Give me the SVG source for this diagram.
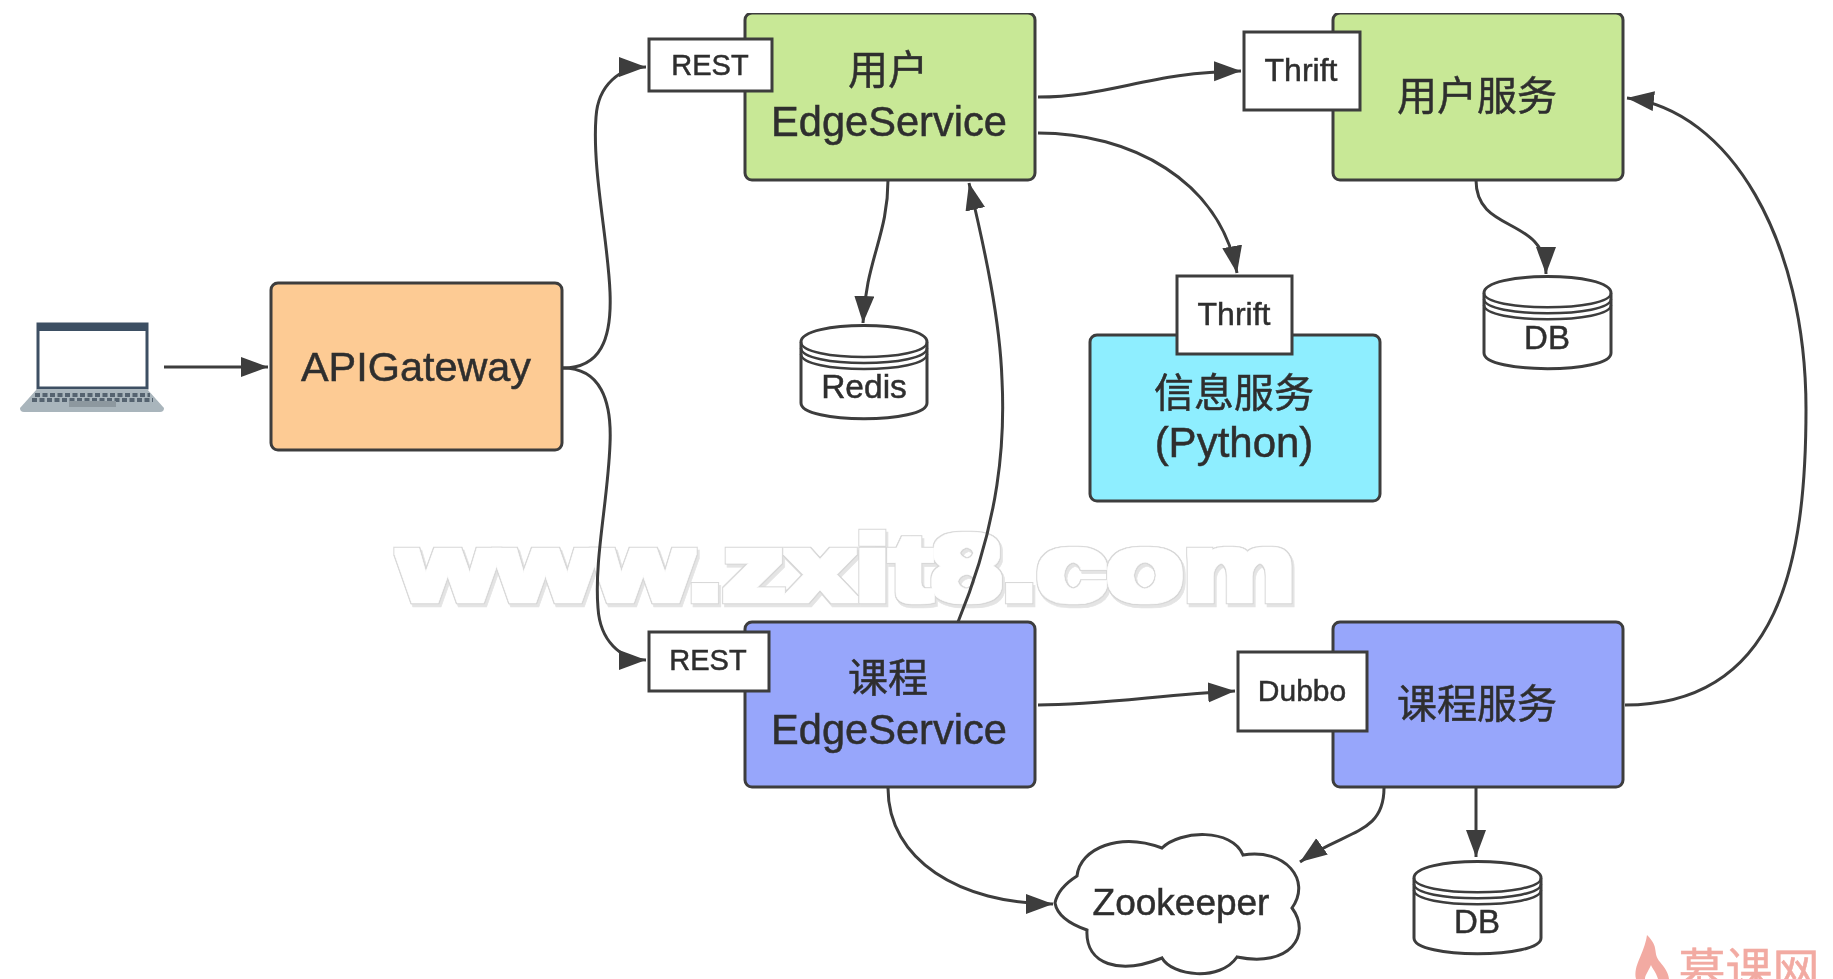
<svg xmlns="http://www.w3.org/2000/svg" width="1833" height="979" viewBox="0 0 1833 979">
<style>
text{font-family:"Liberation Sans","Noto Sans CJK SC",sans-serif;fill:#2f2f2f;stroke:#2f2f2f;stroke-width:.5;text-anchor:middle}
.box{stroke:#3c3c3c;stroke-width:3}
.tag{fill:#fff;stroke:#3c3c3c;stroke-width:3}
.db{fill:#fff;stroke:#3c3c3c;stroke-width:3}
.band{fill:none;stroke:#3c3c3c;stroke-width:2.5}
.conn path{fill:none;stroke:#3c3c3c;stroke-width:3;marker-end:url(#arrow)}
.big{font-size:40px}
.edge{font-size:41.6px}
.sm{font-size:29px}
.th{font-size:32px}
</style>
<defs>
<marker id="arrow" markerUnits="userSpaceOnUse" markerWidth="28" markerHeight="22" refX="27" refY="10" orient="auto"><path d="M0 0L27 10L0 20z" fill="#3c3c3c"/></marker>
<filter id="wm" x="-5%" y="-20%" width="110%" height="140%">
<feMorphology in="SourceAlpha" operator="dilate" radius="5 4" result="d"/>
<feOffset in="d" dx="2" dy="3" result="o"/>
<feFlood flood-color="#e4e4e4"/><feComposite in2="o" operator="in" result="shadow"/>
<feFlood flood-color="#d6d6d6"/><feComposite in2="d" operator="in" result="edge"/>
<feMorphology in="SourceAlpha" operator="dilate" radius="4 3" result="i"/>
<feFlood flood-color="#ffffff"/><feComposite in2="i" operator="in" result="face"/>
<feMerge><feMergeNode in="shadow"/><feMergeNode in="edge"/><feMergeNode in="face"/></feMerge>
</filter>
<filter id="soft" x="0" y="0" width="100%" height="100%"><feGaussianBlur stdDeviation="0.6"/></filter>
</defs>
<rect width="1833" height="979" fill="#fff"/>
<g filter="url(#soft)">
<text id="watermark" x="847" y="600" font-size="92" font-weight="700" textLength="896" lengthAdjust="spacingAndGlyphs" filter="url(#wm)">www.zxit8.com</text>
<g id="laptop">
<rect x="38" y="324" width="109" height="64" fill="#fff" stroke="#3d4f63" stroke-width="3"/>
<rect x="38" y="324" width="109" height="7" fill="#3d4f63"/>
<path d="M37 389H147L164 408Q164 412 160 412H24Q20 412 20 408z" fill="#a9b5bc"/>
<path d="M35 395H150M32 400H153" stroke="#55646f" stroke-width="4" stroke-dasharray="5 2.5" fill="none"/>
<rect x="69" y="401" width="47" height="6" fill="#8d989f"/>
</g>
<g id="apigateway"><rect class="box" x="271" y="283" width="291" height="167" rx="7" fill="#fdcb94"/><text x="416" y="381" font-size="41.4">APIGateway</text></g>
<g id="user-edge"><rect class="box" x="745" y="13" width="290" height="167" rx="7" fill="#c8e896"/><text class="big" x="888" y="84">用户</text><text class="edge" x="889" y="136">EdgeService</text></g>
<g id="rest-1"><rect class="tag" x="649" y="39" width="123" height="52"/><text class="sm" x="710" y="75">REST</text></g>
<g id="user-service"><rect class="box" x="1333" y="13" width="290" height="167" rx="7" fill="#c8e896"/><text class="big" x="1477" y="110">用户服务</text></g>
<g id="thrift-1"><rect class="tag" x="1244" y="32" width="116" height="78"/><text class="th" x="1301" y="81">Thrift</text></g>
<g id="redis"><path class="db" d="M801 342C801 320 927 320 927 342V403C927 424 801 424 801 403z"/><path class="band" d="M801 342C801 362 927 362 927 342M801 348C801 368 927 368 927 348M801 354C801 374 927 374 927 354"/><text x="864" y="398" font-size="33.5">Redis</text></g>
<g id="db-1"><path class="db" d="M1484 293C1484 271 1611 271 1611 293V353C1611 374 1484 374 1484 353z"/><path class="band" d="M1484 293C1484 312 1611 312 1611 293M1484 299C1484 318 1611 318 1611 299M1484 305C1484 324 1611 324 1611 305"/><text x="1547" y="349" font-size="33">DB</text></g>
<g id="info-service"><rect class="box" x="1090" y="335" width="290" height="166" rx="7" fill="#8eeeff"/><text class="big" x="1234" y="407">信息服务</text><text x="1234" y="457" font-size="42">(Python)</text></g>
<g id="thrift-2"><rect class="tag" x="1177" y="276" width="115" height="78"/><text class="th" x="1234" y="325">Thrift</text></g>
<g id="course-edge"><rect class="box" x="745" y="622" width="290" height="165" rx="7" fill="#97a6fb"/><text class="big" x="888" y="692">课程</text><text class="edge" x="889" y="744">EdgeService</text></g>
<g id="rest-2"><rect class="tag" x="649" y="632" width="120" height="59"/><text class="sm" x="708" y="670">REST</text></g>
<g id="course-service"><rect class="box" x="1333" y="622" width="290" height="165" rx="7" fill="#97a6fb"/><text class="big" x="1477" y="718">课程服务</text></g>
<g id="dubbo"><rect class="tag" x="1238" y="652" width="129" height="79"/><text class="sm" x="1302" y="701" style="font-size:30px">Dubbo</text></g>
<g id="db-2"><path class="db" d="M1414 878C1414 856 1541 856 1541 878V938C1541 959 1414 959 1414 938z"/><path class="band" d="M1414 878C1414 897 1541 897 1541 878M1414 884C1414 903 1541 903 1541 884M1414 890C1414 909 1541 909 1541 890"/><text x="1477" y="933" font-size="33">DB</text></g>
<g id="zookeeper"><path d="M1055 903Q1058 888 1077 876C1080 848 1120 832 1162 848C1180 830 1232 828 1243 855C1285 848 1312 880 1292 908C1312 935 1290 968 1237 957C1220 982 1172 976 1162 958C1120 975 1085 965 1087 930Q1058 920 1055 903z" fill="#fff" stroke="#3c3c3c" stroke-width="3"/><text x="1181" y="915" font-size="37">Zookeeper</text></g>
<g id="imooc"><path d="M1647 935C1660 948 1652 952 1660 962C1665 968 1668 972 1669 979H1658C1656 972 1652 968 1651 965C1648 972 1645 975 1645 979H1636C1633 965 1644 955 1647 935z" fill="#f2aaa2"/><text x="1749" y="987" font-size="47" style="fill:#f2aaa2;stroke:#f2aaa2">慕课网</text></g>
<g id="connectors" class="conn">
<path d="M164 367H268"/>
<path d="M563 368C600 368 612 340 610 292C608 240 592 170 596 117C598 85 620 67 646 67"/>
<path d="M563 368C600 368 612 400 610 444C608 500 594 560 598 608C600 640 620 660 646 660"/>
<path d="M1038 97C1110 97 1150 72 1241 71"/>
<path d="M1038 133C1130 133 1220 180 1237 273"/>
<path d="M888 180C888 235 866 260 863 323"/>
<path d="M958 622C1000 520 1005 440 1002 380C1000 320 985 250 969 183"/>
<path d="M1476 180C1476 235 1546 215 1546 274"/>
<path d="M1625 705C1780 705 1806 560 1806 409C1806 240 1730 110 1627 98"/>
<path d="M1038 705C1100 705 1160 695 1235 691"/>
<path d="M1476 788V857"/>
<path d="M1384 788C1384 835 1345 830 1300 862"/>
<path d="M888 788C888 860 960 904 1053 904"/>
</g>
</g>
</svg>
